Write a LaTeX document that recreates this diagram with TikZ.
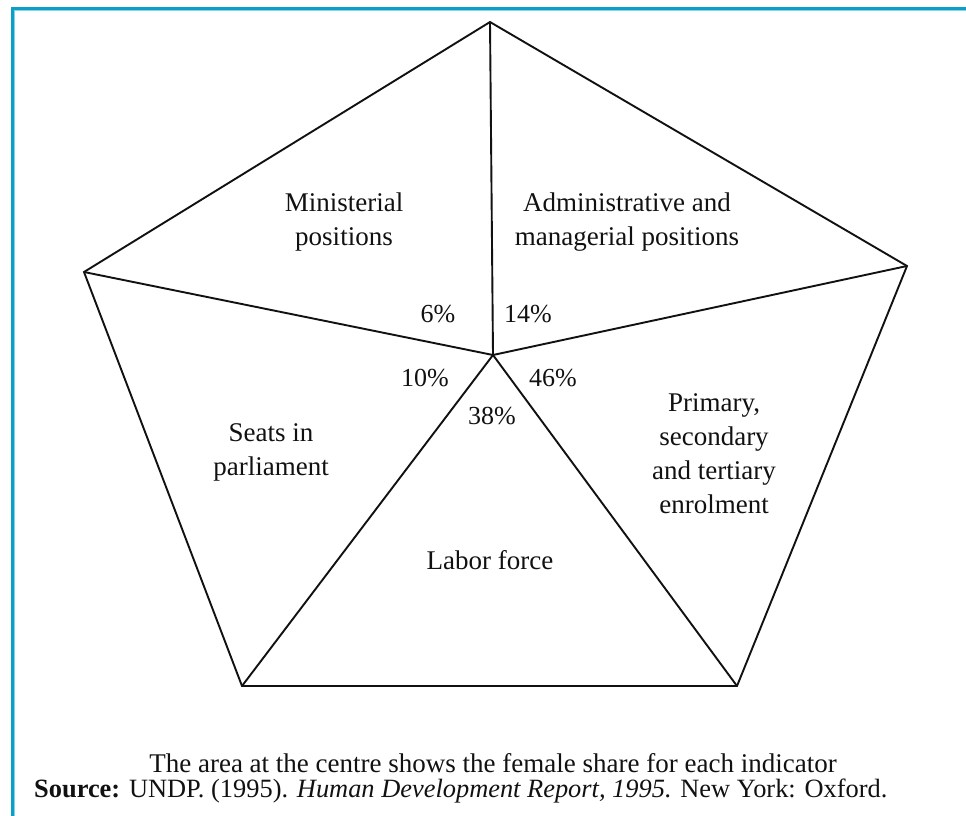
\documentclass[tikz,border=0pt]{standalone}
\usepackage{fontspec}
\setmainfont{Liberation Serif}
\usetikzlibrary{positioning}
\definecolor{frameTeal}{HTML}{0A9FC6}
\definecolor{frameLight}{HTML}{86D2E6}
\definecolor{inkBlack}{HTML}{111111}
\tikzset{
  edge/.style={draw=inkBlack, line width=1.9pt, line join=miter},
  spoke/.style={draw=inkBlack, line width=1.9pt},
  lab/.style={align=center, inner sep=0pt, font=\fontsize{27}{34}\selectfont, text=inkBlack},
  pct/.style={inner sep=0pt, font=\fontsize{26}{30}\selectfont, text=inkBlack},
  note/.style={inner sep=0pt, font=\fontsize{27}{30}\selectfont, text=inkBlack},
}
\begin{document}
\begin{tikzpicture}[x=1pt,y=-1pt]
        \useasboundingbox (0,0) rectangle (966,816);
        % frame (top and left edges only)
        \fill[frameTeal] (11,7) rectangle (966,10);
        \fill[frameTeal] (11,7) rectangle (14,816);
        \fill[frameLight] (14,10) rectangle (966,11);
        \fill[frameLight] (14,10) rectangle (15,816);
        % pentagon
        \coordinate (top) at (490,22);
        \coordinate (ru) at (907,266);
        \coordinate (rl) at (737,686);
        \coordinate (ll) at (242,686);
        \coordinate (lu) at (84,272);
        \coordinate (ctr) at (493,355);
        \draw[edge] (top) -- (ru) -- (rl) -- (ll) -- (lu) -- cycle;
        \foreach \v in {top,ru,rl,ll,lu}{\draw[spoke] (ctr) -- (\v);}
        % sector labels
        \node[lab] (minis) at (344,222) {Ministerial\\positions};
        \node[lab] (admin) at (627,222) {Administrative and\\managerial positions};
        \node[lab] (seats) at (271,452) {Seats in\\parliament};
        \node[lab] (educ) at (714,454) {Primary,\\secondary\\and tertiary\\enrolment};
        \node[lab] (labor) at (490,560) {Labor force};
        % female shares
        \foreach \n/\x/\y/\t in {pm/438/314/6,pa/528/314/14,ps/425/378/10,pe/553/378/46,pl/492/416/38}{
          \node[pct] (\n) at (\x,\y) {\t\%};
        }
        \node[note] (capt) at (493,763) {The area at the centre shows the female share for each indicator};
        \node[note,font=\fontsize{26.4}{30}\selectfont,anchor=west] (src) at (34,791) {\textbf{Source:} UNDP. (1995). \textit{Human Development Report, 1995.} New York: Oxford.};
      \end{tikzpicture}
\end{document}
